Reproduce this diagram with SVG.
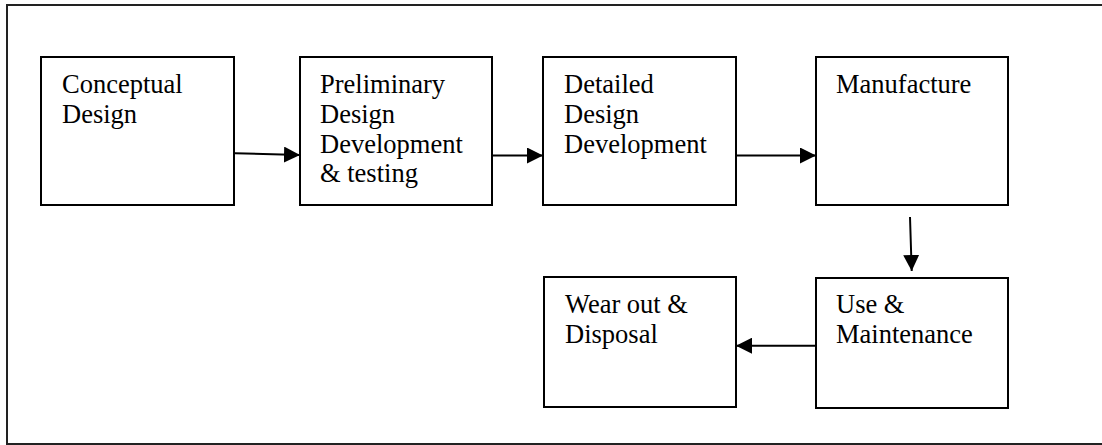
<svg xmlns="http://www.w3.org/2000/svg" width="1102" height="445" viewBox="0 0 1102 445">
  <style>
    .frame { fill: none; stroke: #222; stroke-width: 2; }
    .box { fill: #fff; stroke: #000; stroke-width: 2; }
    .label { font-family: "Liberation Serif", "Times New Roman", serif; font-size: 26.5px; fill: #000; }
    .conn { fill: none; stroke: #000; stroke-width: 2; marker-end: url(#arrow); }
  </style>
  <defs>
    <marker id="arrow" markerUnits="userSpaceOnUse" markerWidth="16" markerHeight="16" refX="16" refY="8" orient="auto">
      <path d="M0,0 L16,8 L0,16 Z" fill="#000"/>
    </marker>
  </defs>

  <rect width="1102" height="445" fill="#fff"/>
  <!-- outer frame -->
  <rect class="frame" x="7" y="5" width="1110" height="439"/>

  <g id="conceptual-design">
    <rect class="box" x="41" y="57" width="193" height="148"/>
    <text class="label" x="62" y="93">Conceptual</text>
    <text class="label" x="62" y="123">Design</text>
  </g>

  <g id="preliminary-design">
    <rect class="box" x="300" y="57" width="192" height="148"/>
    <text class="label" x="320" y="93">Preliminary</text>
    <text class="label" x="320" y="123">Design</text>
    <text class="label" x="320" y="153">Development</text>
    <text class="label" x="320" y="182">&amp; testing</text>
  </g>

  <g id="detailed-design">
    <rect class="box" x="543" y="57" width="193" height="148"/>
    <text class="label" x="564" y="93">Detailed</text>
    <text class="label" x="564" y="123">Design</text>
    <text class="label" x="564" y="153">Development</text>
  </g>

  <g id="manufacture">
    <rect class="box" x="816" y="57" width="192" height="148"/>
    <text class="label" x="836" y="93">Manufacture</text>
  </g>

  <g id="use-maintenance">
    <rect class="box" x="816" y="278" width="192" height="130"/>
    <text class="label" x="836" y="313">Use &amp;</text>
    <text class="label" x="836" y="343">Maintenance</text>
  </g>

  <g id="wear-out-disposal">
    <rect class="box" x="544" y="277" width="192" height="130"/>
    <text class="label" x="565" y="313">Wear out &amp;</text>
    <text class="label" x="565" y="343">Disposal</text>
  </g>

  <g id="connectors">
    <line class="conn" x1="235" y1="153.3" x2="300" y2="155"/>
    <line class="conn" x1="493" y1="155.5" x2="543" y2="155.5"/>
    <line class="conn" x1="737" y1="155.5" x2="816" y2="155.5"/>
    <line class="conn" x1="910" y1="217" x2="911.7" y2="271"/>
    <line class="conn" x1="815" y1="345.7" x2="736" y2="345.7"/>
  </g>
</svg>
